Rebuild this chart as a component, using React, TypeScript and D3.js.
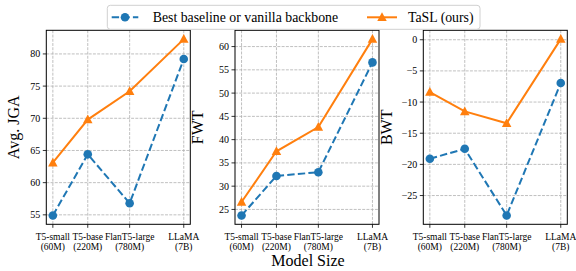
import React from "react";
import * as d3 from "d3";

// model categories and where they sit on the x axis
const models = ["T5-small", "T5-base", "FlanT5-large", "LLaMA"];
const sizes = ["(60M)", "(220M)", "(780M)", "(7B)"];
const xPos = [0, 1, 2.2, 3.75];

const metrics = ["Avg. JGA", "FWT", "BWT"];

// best baseline / vanilla backbone
const baselineJGA = [54.9, 64.4, 56.8, 79.2];
const baselineFWT = [23.7, 32.2, 33.0, 56.6];
const baselineBWT = [-19.1, -17.5, -28.2, -6.95];

// TaSL (ours)
const taslJGA = [63.1, 69.8, 74.2, 82.3];
const taslFWT = [26.6, 37.5, 42.7, 61.6];
const taslBWT = [-8.4, -11.5, -13.4, 0.1];

const yTicksJGA = [55, 60, 65, 70, 75, 80];
const yTicksFWT = [25, 30, 35, 40, 45, 50, 55, 60];
const yTicksBWT = [-25, -20, -15, -10, -5, 0];

const W = 576;
const H = 271;
const FONT = "'Liberation Serif', 'Times New Roman', serif";
const BLUE = "#1f77b4";
const ORANGE = "#ff7f0e";

const panelLeft = [46.3, 235, 423.3];
const panelW = 144;
const top = 30.3;
const bottom = 224.3;
const labelX = [19, 203.3, 392];

const panels = [
  { base: baselineJGA, tasl: taslJGA, ticks: yTicksJGA },
  { base: baselineFWT, tasl: taslFWT, ticks: yTicksFWT },
  { base: baselineBWT, tasl: taslBWT, ticks: yTicksBWT },
];

function pad(ext: [number, number]): [number, number] {
  const m = (ext[1] - ext[0]) * 0.05;
  return [ext[0] - m, ext[1] + m];
}

function tri(cx: number, cy: number, r: number) {
  return `M${cx},${cy - r}L${cx + r * 0.95},${cy + r * 0.75}L${cx - r * 0.95},${cy + r * 0.75}Z`;
}

function fmt(v: number) {
  return v < 0 ? "\u2212" + Math.abs(v) : String(v);
}

function Panel({ i }: { i: number }) {
  const p = panels[i];
  const left = panelLeft[i];
  const x = d3
    .scaleLinear()
    .domain(pad(d3.extent(xPos) as [number, number]))
    .range([left, left + panelW]);
  const all = [...p.base, ...p.tasl];
  const y = d3
    .scaleLinear()
    .domain(pad(d3.extent(all) as [number, number]))
    .range([bottom, top]);
  const line = d3
    .line<number>()
    .x((_, j) => x(xPos[j]))
    .y((d) => y(d));

  return (
    <g>
      {/* grid */}
      {xPos.map((v, j) => (
        <line key={"gx" + j} x1={x(v)} x2={x(v)} y1={top} y2={bottom}
          stroke="#b0b0b0" strokeWidth={0.8} strokeDasharray="2.96,1.28" />
      ))}
      {p.ticks.map((t) => (
        <line key={"gy" + t} x1={left} x2={left + panelW} y1={y(t)} y2={y(t)}
          stroke="#b0b0b0" strokeWidth={0.8} strokeDasharray="2.96,1.28" />
      ))}
      {/* series */}
      <path d={line(p.base) || ""} fill="none" stroke={BLUE} strokeWidth={2}
        strokeDasharray="7.4,3.2" />
      <path d={line(p.tasl) || ""} fill="none" stroke={ORANGE} strokeWidth={2} />
      {p.base.map((d, j) => (
        <circle key={"c" + j} cx={x(xPos[j])} cy={y(d)} r={4.3} fill={BLUE} />
      ))}
      {p.tasl.map((d, j) => (
        <path key={"t" + j} d={tri(x(xPos[j]), y(d), 5)} fill={ORANGE} />
      ))}
      {/* frame */}
      <rect x={left} y={top} width={panelW} height={bottom - top} fill="none"
        stroke="#000" strokeWidth={1} />
      {/* y ticks */}
      {p.ticks.map((t) => (
        <g key={"yt" + t}>
          <line x1={left - 3.5} x2={left} y1={y(t)} y2={y(t)} stroke="#000" strokeWidth={0.8} />
          <text x={left - 6} y={y(t) + 3.5} textAnchor="end" fontSize={10}
            fontFamily={FONT}>{fmt(t)}</text>
        </g>
      ))}
      {/* x ticks */}
      {xPos.map((v, j) => (
        <g key={"xt" + j}>
          <line x1={x(v)} x2={x(v)} y1={bottom} y2={bottom + 3.5} stroke="#000" strokeWidth={0.8} />
          <text x={x(v)} y={240} textAnchor="middle" fontSize={9.5} fontFamily={FONT}>{models[j]}</text>
          <text x={x(v)} y={249.6} textAnchor="middle" fontSize={9.5} fontFamily={FONT}>{sizes[j]}</text>
        </g>
      ))}
      <text transform={`translate(${labelX[i]},${(top + bottom) / 2}) rotate(-90)`}
        textAnchor="middle" fontSize={16} fontFamily={FONT}>{metrics[i]}</text>
    </g>
  );
}

export default function App() {
  return (
    <svg width={W} height={H} style={{ position: "absolute", left: 0, top: 0, background: "#fff" }}>
      {panels.map((_, i) => (
        <Panel key={i} i={i} />
      ))}
      <text x={308} y={266} textAnchor="middle" fontSize={16} fontFamily={FONT}>Model Size</text>
      {/* legend */}
      <g>
        <rect x={107.3} y={5.3} width={372.7} height={24} rx={3} fill="#fff" fillOpacity={0.85}
          stroke="#d0d0d0" strokeWidth={1} />
        <line x1={111.7} x2={138.3} y1={17.3} y2={17.3} stroke={BLUE} strokeWidth={2} strokeDasharray="7.4,3.2" />
        <circle cx={125} cy={17.3} r={4.3} fill={BLUE} />
        <text x={152.7} y={22} fontSize={13.8} fontFamily={FONT}>Best baseline or vanilla backbone</text>
        <line x1={367} x2={397} y1={17.3} y2={17.3} stroke={ORANGE} strokeWidth={2} />
        <path d={tri(382, 17.3, 5)} fill={ORANGE} />
        <text x={408} y={22} fontSize={13.8} fontFamily={FONT}>TaSL (ours)</text>
      </g>
    </svg>
  );
}
